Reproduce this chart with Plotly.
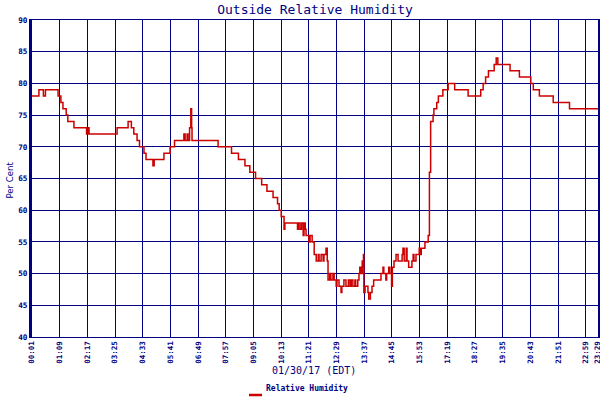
import plotly.graph_objects as go

# --- data (clock time, % relative humidity) ----------------------------------
# the logger has no samples between 16:17 and 16:35; the x axis skips that gap
TIMES = [
    "00:01", "00:18", "00:29", "00:34", "01:05", "01:12", "01:17", "01:25",
    "01:29", "01:44", "02:15", "02:19", "02:21", "03:30", "03:57", "04:05",
    "04:11", "04:19", "04:25", "04:36", "04:41", "04:58", "05:01", "05:25",
    "05:40", "05:51", "06:14", "06:17", "06:22", "06:24", "06:28", "06:31",
    "06:33", "06:34", "07:38", "08:11", "08:28", "08:44", "08:56", "09:10",
    "09:25", "09:38", "09:53", "10:04", "10:08", "10:13", "10:20", "10:22",
    "10:53", "10:55", "10:59", "11:03", "11:07", "11:09", "11:12", "11:14",
    "11:21", "11:24", "11:29", "11:34", "11:39", "11:44", "11:46", "11:51",
    "11:56", "11:58", "12:03", "12:06", "12:08", "12:12", "12:15", "12:20",
    "12:23", "12:28", "12:30", "12:35", "12:40", "12:42", "12:47", "12:52",
    "12:58", "13:02", "13:05", "13:09", "13:14", "13:16", "13:21", "13:24",
    "13:26", "13:29", "13:32", "13:34", "13:35", "13:36", "13:39", "13:46",
    "13:48", "13:52", "13:56", "14:00", "14:18", "14:23", "14:25", "14:30",
    "14:32", "14:37", "14:40", "14:44", "14:46", "14:50", "14:55", "15:00",
    "15:10", "15:12", "15:15", "15:20", "15:22", "15:26", "15:34", "15:37",
    "15:39", "15:44", "15:52", "15:54", "15:57", "16:06", "16:14", "16:35",
    "16:38", "16:44", "16:46", "16:53", "16:57", "17:08", "17:21", "17:37",
    "18:10", "18:41", "18:47", "18:53", "19:00", "19:14", "19:19", "19:23",
    "19:53", "20:16", "20:44", "20:50", "21:05", "21:39", "22:19", "23:29",
]
HUMIDITY = [
    78, 79, 78, 79, 78, 77, 76, 75,
    74, 73, 72, 73, 72, 73, 74, 73,
    72, 71, 70, 69, 68, 67, 68, 69,
    70, 71, 72, 71, 72, 71, 73, 76,
    73, 71, 70, 69, 68, 67, 66, 65,
    64, 63, 62, 61, 60, 59, 57, 58,
    57, 58, 57, 58, 56, 58, 57, 56,
    55, 56, 55, 53, 52, 53, 52, 53,
    52, 53, 54, 52, 49, 50, 49, 50,
    49, 48, 49, 48, 47, 48, 49, 48,
    49, 48, 49, 48, 49, 48, 49, 50,
    51, 50, 52, 51, 53, 47, 48, 47,
    46, 47, 48, 49, 50, 51, 50, 49,
    50, 51, 50, 48, 51, 52, 53, 52,
    53, 54, 52, 54, 52, 51, 52, 53,
    52, 53, 54, 53, 54, 55, 56, 66,
    74, 75, 76, 77, 78, 79, 80, 79,
    78, 79, 80, 81, 82, 83, 84, 83,
    82, 81, 80, 79, 78, 77, 76, 76,
]
TICK_LABELS = [
    "00:01", "01:09", "02:17", "03:25", "04:33", "05:41", "06:49", "07:57",
    "09:05", "10:13", "11:21", "12:29", "13:37", "14:45", "15:53", "17:19",
    "18:27", "19:35", "20:43", "21:51", "22:59", "23:29",
]

GAP_START = 16 * 60 + 17
GAP_LEN = 18
NAVY = "#000080"
RED = "#cc0000"
MONO = "DejaVu Sans Mono"

# plot box in pixels (600x400 page)
L, R, T, B = 32, 598, 20, 337


def axis_pos(hhmm):
    """Minutes since 00:01 with the logging gap squeezed out."""
    h, m = hhmm.split(":")
    t = int(h) * 60 + int(m)
    if t > GAP_START:
        t -= GAP_LEN
    return t - 1


def px_x(px):
    return (px - L) / (R - L)


def px_y(py):
    return (B - py) / (B - T)


xs = [axis_pos(t) for t in TIMES]
tick_vals = [axis_pos(t) for t in TICK_LABELS]

fig = go.Figure()
fig.add_trace(
    go.Scatter(
        x=xs,
        y=HUMIDITY,
        mode="lines",
        line=dict(color=RED, width=1.5, shape="hv"),
        name="Relative Humidity",
        showlegend=False,
        hoverinfo="skip",
    )
)

fig.update_xaxes(
    range=[tick_vals[0], tick_vals[-1]],
    tickmode="array",
    tickvals=tick_vals,
    ticktext=TICK_LABELS,
    tickangle=-90,
    tickfont=dict(family=MONO, size=7.5, color=NAVY, weight="bold"),
    ticklabeloverflow="allow",
    showgrid=True,
    gridcolor=NAVY,
    gridwidth=1.3,
    zeroline=False,
    showline=True,
    linecolor=NAVY,
    linewidth=1.3,
    mirror=True,
    ticks="",
    automargin=False,
)
fig.update_yaxes(
    range=[40, 90],
    tickvals=list(range(40, 91, 5)),
    tickfont=dict(family=MONO, size=7.7, color=NAVY, weight="bold"),
    showgrid=True,
    gridcolor=NAVY,
    gridwidth=1.3,
    zeroline=False,
    showline=True,
    linecolor=NAVY,
    linewidth=3,
    mirror=True,
    ticks="",
    automargin=False,
)

# axis titles and the legend key, placed like the original
fig.add_annotation(
    text="01/30/17 (EDT)", xref="paper", yref="paper",
    x=px_x(314), y=px_y(378), showarrow=False,
    font=dict(family=MONO, size=10, color=NAVY),
)
fig.add_annotation(
    text="Per Cent", xref="paper", yref="paper",
    x=px_x(1), xanchor="left", y=px_y(180), showarrow=False, textangle=-90,
    font=dict(family="DejaVu Sans Condensed, DejaVu Sans", size=9.5, color=NAVY),
)
fig.add_shape(
    type="line", xref="paper", yref="paper",
    x0=px_x(249), x1=px_x(262), y0=px_y(395), y1=px_y(395),
    line=dict(color=RED, width=2.5),
)
fig.add_annotation(
    text="Relative Humidity", xref="paper", yref="paper",
    x=px_x(264), y=px_y(395), xanchor="left", showarrow=False,
    font=dict(family=MONO, size=8, color=NAVY, weight="bold"),
)

fig.update_layout(
    width=600,
    height=400,
    margin=dict(l=L, r=600 - R, t=T, b=400 - B),
    paper_bgcolor="white",
    plot_bgcolor="white",
    showlegend=False,
    hovermode=False,
    title=dict(
        text="Outside Relative Humidity",
        font=dict(family=MONO, size=13, color=NAVY),
        x=315 / 600,
        xanchor="center",
        y=1 - 9 / 400,
        yanchor="middle",
        xref="container",
        yref="container",
    ),
)

# drop the browser's default page margin so the 600x400 figure fills the window
fig.write_html(
    "out.html",
    config={"displayModeBar": False},
    post_script="document.body.style.margin='0';document.body.style.overflow='hidden';",
)
